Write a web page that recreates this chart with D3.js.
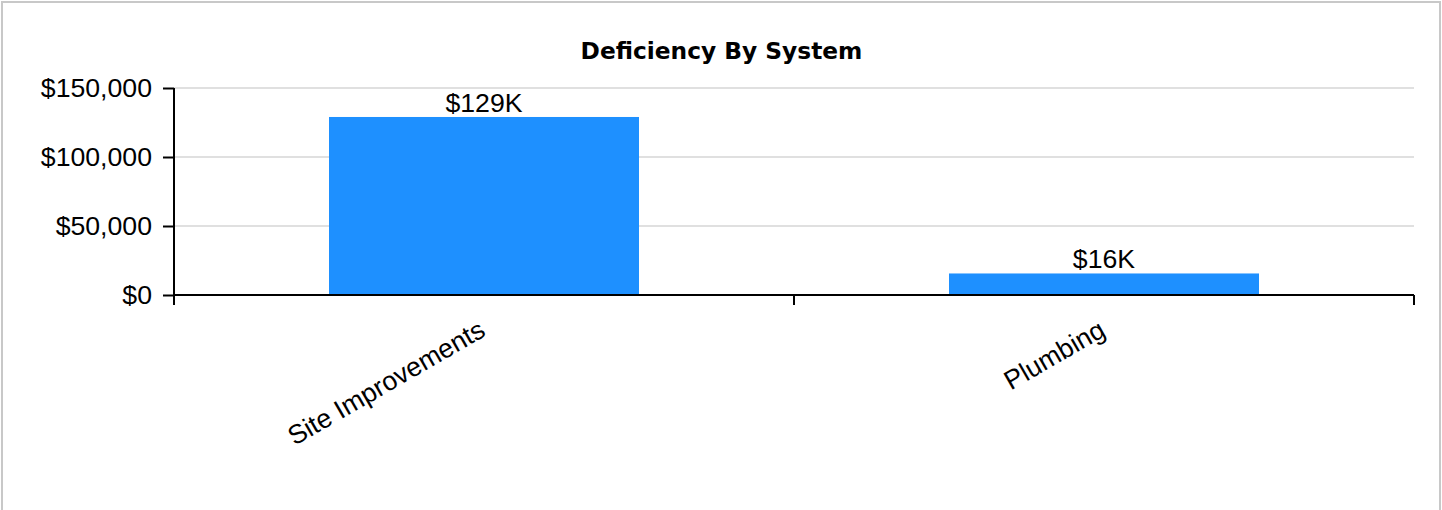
<!DOCTYPE html>
<html>
<head>
<meta charset="utf-8">
<script src="https://cdn.jsdelivr.net/npm/d3@7"></script>
<style>
  html, body { margin: 0; padding: 0; background: #fff; }
  svg { display: block; font-family: "Liberation Sans", Arial, sans-serif; }
</style>
</head>
<body>
<svg id="chart" width="1442" height="510"></svg>
<script>
// Deficiency cost per building system
const categories = ["Site Improvements", "Plumbing"];
const costs = [129000, 15600];
const costLabels = ["$129K", "$16K"];
const yTicks = [0, 50000, 100000, 150000];
const chartTitle = "Deficiency By System";

const svg = d3.select("#chart");
const W = 1442, H = 510;
const margin = { top: 88, right: 28, bottom: 215, left: 174 };
const plotW = W - margin.left - margin.right;
const plotH = H - margin.top - margin.bottom;
const labelSize = 26.67;

// outer frame
svg.append("rect")
  .attr("x", 2).attr("y", 2)
  .attr("width", W - 4).attr("height", H + 10)
  .attr("fill", "#fff").attr("stroke", "#c8c8c8").attr("stroke-width", 2);

svg.append("text")
  .attr("x", 721.5).attr("y", 59)
  .attr("text-anchor", "middle")
  .attr("font-family", "'DejaVu Sans', Verdana, sans-serif")
  .attr("font-size", 23.3).attr("font-weight", "bold")
  .attr("fill", "#000")
  .text(chartTitle);

const g = svg.append("g").attr("transform", `translate(${margin.left},${margin.top})`);

const x = d3.scaleBand().domain(categories).range([0, plotW])
  .paddingInner(0.5).paddingOuter(0.25);
const y = d3.scaleLinear().domain([0, 150000]).range([plotH, 0]);

// horizontal gridlines
g.append("g").selectAll("line").data(yTicks.filter(d => d > 0)).join("line")
  .attr("x1", 0).attr("x2", plotW)
  .attr("y1", d => y(d)).attr("y2", d => y(d))
  .attr("stroke", "#d6d6d6").attr("stroke-width", 1.5);

// bars
g.append("g").selectAll("rect").data(categories).join("rect")
  .attr("x", d => x(d))
  .attr("y", (d, i) => y(costs[i]))
  .attr("width", x.bandwidth())
  .attr("height", (d, i) => plotH - y(costs[i]))
  .attr("fill", "#1e90ff");

// value labels
g.append("g").selectAll("text").data(categories).join("text")
  .attr("x", d => x(d) + x.bandwidth() / 2)
  .attr("y", (d, i) => y(costs[i]) - 5)
  .attr("text-anchor", "middle")
  .attr("font-size", labelSize).attr("fill", "#000")
  .text((d, i) => costLabels[i]);

// y axis
const fmt = d3.format("$,.0f");
const yAxis = g.append("g")
  .call(d3.axisLeft(y).tickValues(yTicks).tickFormat(fmt).tickSize(11).tickPadding(11));
yAxis.selectAll("text").attr("font-size", labelSize).attr("fill", "#000")
  .attr("font-family", "Liberation Sans, Arial, sans-serif");
yAxis.selectAll("line").attr("stroke", "#000").attr("stroke-width", 2);
yAxis.select(".domain").remove();
g.append("line")
  .attr("x1", 0).attr("x2", 0).attr("y1", 0).attr("y2", plotH + 10)
  .attr("stroke", "#000").attr("stroke-width", 2);

// x axis with ticks at band boundaries
const xAxis = g.append("g").attr("transform", `translate(0,${plotH})`);
xAxis.append("line")
  .attr("x1", 0).attr("x2", plotW).attr("y1", 0).attr("y2", 0)
  .attr("stroke", "#000").attr("stroke-width", 2);
const boundaries = [0, x.step(), plotW];
xAxis.selectAll("line.tick").data(boundaries).join("line")
  .attr("class", "tick")
  .attr("x1", d => d).attr("x2", d => d)
  .attr("y1", 0).attr("y2", 10)
  .attr("stroke", "#000").attr("stroke-width", 2);

xAxis.selectAll("text").data(categories).join("text")
  .attr("transform", d => `translate(${x(d) + x.bandwidth() / 2 + 3},${40}) rotate(-30)`)
  .attr("text-anchor", "end")
  .attr("font-size", labelSize).attr("fill", "#000")
  .text(d => d);
</script>
</body>
</html>
